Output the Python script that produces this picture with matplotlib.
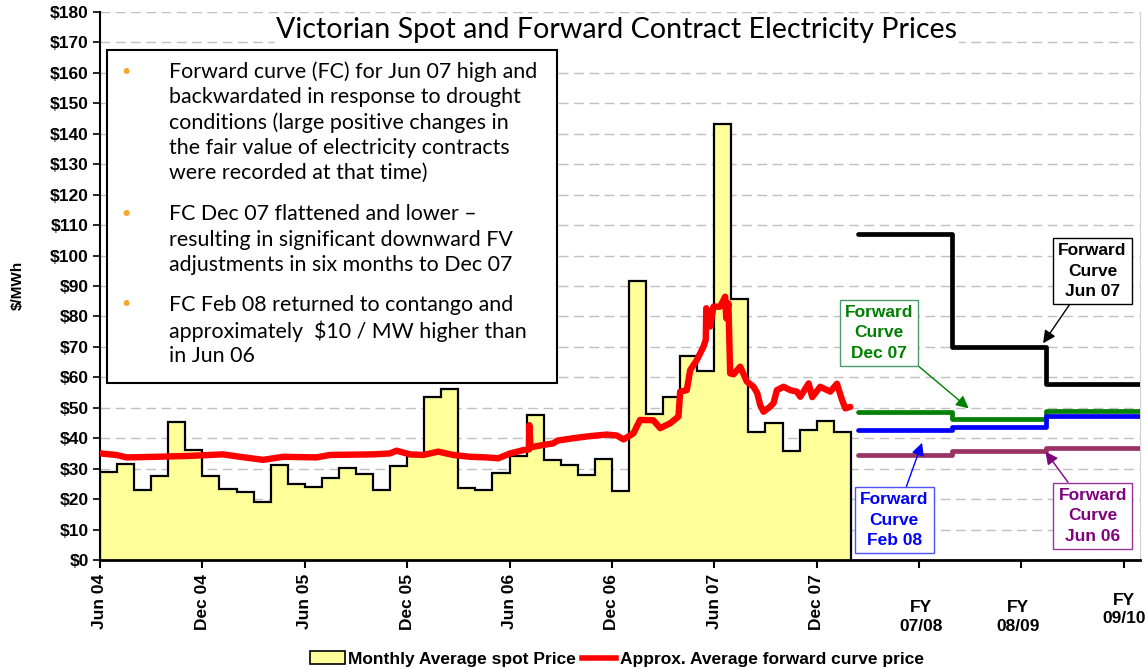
import numpy as np
import matplotlib
matplotlib.use("Agg")
import matplotlib.pyplot as plt
from matplotlib.patches import Rectangle, Patch
from matplotlib.lines import Line2D

# monthly average spot price ($/MWh), one bar per month from Jun 04 to Jan 08
spot = [29.0, 31.6, 22.9, 27.6, 45.2, 36.0, 27.7, 23.3, 22.2, 19.1, 31.2, 25.0,
        24.0, 26.9, 30.3, 28.4, 23.1, 31.0, 34.1, 53.7, 56.2, 23.5, 23.0, 28.5,
        34.0, 47.6, 32.9, 31.2, 27.9, 33.1, 22.8, 91.5, 47.9, 53.7, 67.1, 62.1,
        143.2, 85.7, 42.2, 44.9, 35.9, 42.8, 45.7, 41.9]

# approx. average forward curve price (months since Jun 04, $/MWh)
fwd_t = [0.04, 0.96, 1.55, 3.31, 5.26, 7.21, 8.19, 9.56, 10.73, 12.69, 13.47,
         16.01, 16.99, 17.38, 18.16, 18.94, 19.82, 20.70, 21.68, 22.66, 23.34,
         24.03, 24.81, 25.14, 25.16, 25.23, 25.98, 26.57, 26.79, 27.74, 28.72,
         29.70, 30.29, 30.68, 31.26, 31.65, 32.43, 32.83, 33.41, 33.90, 34.00,
         34.39, 34.59, 34.98, 35.37, 35.50, 35.53, 35.64, 35.76, 35.95, 36.34,
         36.64, 36.70, 36.83, 36.93, 37.13, 37.52, 37.91, 38.30, 38.52, 38.69,
         38.89, 39.28, 39.47, 39.67, 40.06, 40.45, 40.84, 41.04, 41.53, 41.74,
         42.21, 42.80, 43.19, 43.48, 43.68, 43.97]
fwd_p = [35.0, 34.5, 33.7, 33.9, 34.2, 34.7, 33.9, 32.9, 33.9, 33.7, 34.5,
         34.7, 35.0, 35.9, 34.7, 34.5, 35.6, 34.5, 33.9, 33.7, 33.4,
         35.0, 36.1, 36.3, 44.3, 37.0, 37.8, 38.3, 39.2, 40.0, 40.7,
         41.2, 40.9, 39.6, 41.6, 46.0, 45.9, 43.3, 44.9, 47.1, 55.3,
         55.8, 62.4, 65.7, 70.1, 72.3, 82.7, 81.0, 76.7, 83.2, 83.2,
         86.5, 79.4, 84.3, 61.3, 61.0, 63.5, 58.6, 56.9, 54.8, 50.9,
         48.7, 50.4, 51.5, 55.8, 56.9, 55.8, 55.3, 53.6, 58.0, 53.5,
         56.9, 55.3, 57.9, 52.7, 49.8, 50.3]

# forward curves by financial year (FY 07/08, 08/09, 09/10)
fc_edges = [44.4, 49.94, 55.47, 60.95]
fc_jun07 = [107.1, 70.1, 57.7]
fc_dec07 = [48.5, 46.3, 49.0]
fc_feb08 = [42.7, 43.8, 47.4]
fc_jun06 = [34.5, 35.8, 36.8]

tick_labels = ["Jun 04", "Dec 04", "Jun 05", "Dec 05", "Jun 06", "Dec 06",
               "Jun 07", "Dec 07"]
fy_labels = ["FY\n07/08", "FY\n08/09", "FY\n09/10"]

notes = [
    ["Forward curve (FC) for Jun 07 high and",
     "backwardated in response to drought",
     "conditions (large positive changes in",
     "the fair value of electricity contracts",
     "were recorded at that time)"],
    ["FC Dec 07 flattened and lower \u2013",
     "resulting in significant downward FV",
     "adjustments in six months to Dec 07"],
    ["FC Feb 08 returned to contango and",
     "approximately  $10 / MW higher than",
     "in Jun 06"],
]

W, H = 1148, 669
plt.rcParams['font.family'] = "Liberation Sans"
plt.rcParams['font.weight'] = "bold"
fig = plt.figure(figsize=(W / 100, H / 100), dpi=100)
ax = fig.add_axes([100 / W, 1 - 560 / H, 1040 / W, 548 / H])

edges = np.arange(len(spot) + 1)
ax.stairs(spot, edges, fill=True, facecolor="#FFFF99", edgecolor="none", zorder=2)
ax.stairs(spot, edges, baseline=0, color="black", lw=1.6, zorder=3)
ax.plot(fwd_t, fwd_p, color="red", lw=4.6, solid_capstyle="round",
        solid_joinstyle="round", zorder=4)

for vals, col in [(fc_jun07, "black"), (fc_dec07, "#008000"),
                  (fc_feb08, "#0000FF"), (fc_jun06, "#993366")]:
    ax.stairs(vals, fc_edges, baseline=None, color=col, lw=3.4, zorder=4,
              joinstyle="round", capstyle="round")

ax.set_xlim(0, 60.95)
ax.set_ylim(0, 180)
ax.set_yticks(np.arange(0, 181, 10))
ax.set_yticklabels(["$%d" % v for v in range(0, 181, 10)], fontsize=12.5)
ax.set_xticks(np.arange(0, 61, 6))
ax.set_xticklabels(tick_labels + [""] * 3, rotation=90, fontsize=12.5)
ax.tick_params(axis="x", length=6, width=1.5, pad=4)
ax.tick_params(axis="y", length=5, width=1.2, pad=3)
ax.set_axisbelow(True)
ax.yaxis.grid(True, color="#c0c0c0", lw=1, ls=(0, (7, 4)))
ax.spines["top"].set_visible(False)
ax.spines["right"].set_color("#d0d0d0")
ax.spines["left"].set_linewidth(1.5)
ax.spines["bottom"].set_linewidth(2)

xt = ax.get_xaxis_transform()
for lab, xpos, ypos in zip(fy_labels, [48.1, 53.8, 60], [-0.104, -0.104, -0.09]):
    ax.text(xpos, ypos, lab, transform=xt, ha="center", va="center",
            fontsize=12.5, linespacing=1.3)

fig.text(18 / W, 1 - 285 / H, "$/MWh", rotation=90, ha="center", va="center",
         fontsize=11)

fig.text(617 / W, 1 - 30 / H, "Victorian Spot and Forward Contract Electricity Prices",
         ha="center", va="center", fontsize=20.6, family="Lato", fontweight="normal",
         bbox=dict(facecolor="white", edgecolor="none", pad=1), zorder=5)

# note box
fig.patches.append(Rectangle((107 / W, 1 - 383 / H), 450 / W, 333 / H,
                             transform=fig.transFigure, facecolor="white",
                             edgecolor="black", lw=1.5, zorder=5))
line_y = [[72, 97, 123, 148, 173], [214, 240, 265], [305, 331, 356]]
for para, ys in zip(notes, line_y):
    fig.text(126 / W, 1 - ys[0] / H, "\u2022", color="#F5A623", ha="center",
             va="center", fontsize=15, zorder=6)
    for txt, y in zip(para, ys):
        fig.text(169 / W, 1 - y / H, txt, ha="left", va="center", fontsize=15.4,
                 family="Lato", fontweight="normal", color="black", zorder=6)

# forward curve labels
labels = [("Forward\nCurve\nJun 07", (58.16, 94.9), (55.27, 71.2), "black", "black", "black"),
          ("Forward\nCurve\nDec 07", (45.65, 74.6), (50.91, 49.8), "#008000", "#4a9a6a", "#008000"),
          ("Forward\nCurve\nFeb 08", (46.55, 13.1), (48.18, 38.5), "#0000FF", "#5050FF", "#0000FF"),
          ("Forward\nCurve\nJun 06", (58.18, 14.5), (55.41, 35.6), "#800080", "#993399", "#800080")]
for txt, xytext, xy, tcol, bcol, acol in labels:
    ax.annotate(txt, xy=xy, xytext=xytext, ha="center", va="center",
                fontsize=12.5, color=tcol, linespacing=1.45, zorder=6,
                bbox=dict(boxstyle="square,pad=0.3", facecolor="white",
                          edgecolor=bcol, lw=1),
                arrowprops=dict(arrowstyle="-|>,head_length=0.6,head_width=0.3",
                                color=acol, lw=1, shrinkA=0, shrinkB=0))

handles = [Patch(facecolor="#FFFF99", edgecolor="black", lw=1.2),
           Line2D([], [], color="red", lw=4)]
fig.legend(handles, ["Monthly Average spot Price", "Approx. Average forward curve price"],
           loc="center", bbox_to_anchor=(617 / W, 1 - 659 / H), ncol=2,
           frameon=False, fontsize=12.5, handlelength=2.0, handleheight=0.8,
           handletextpad=0.2, columnspacing=0.3, borderpad=0)

fig.savefig("out.png", dpi=100)
